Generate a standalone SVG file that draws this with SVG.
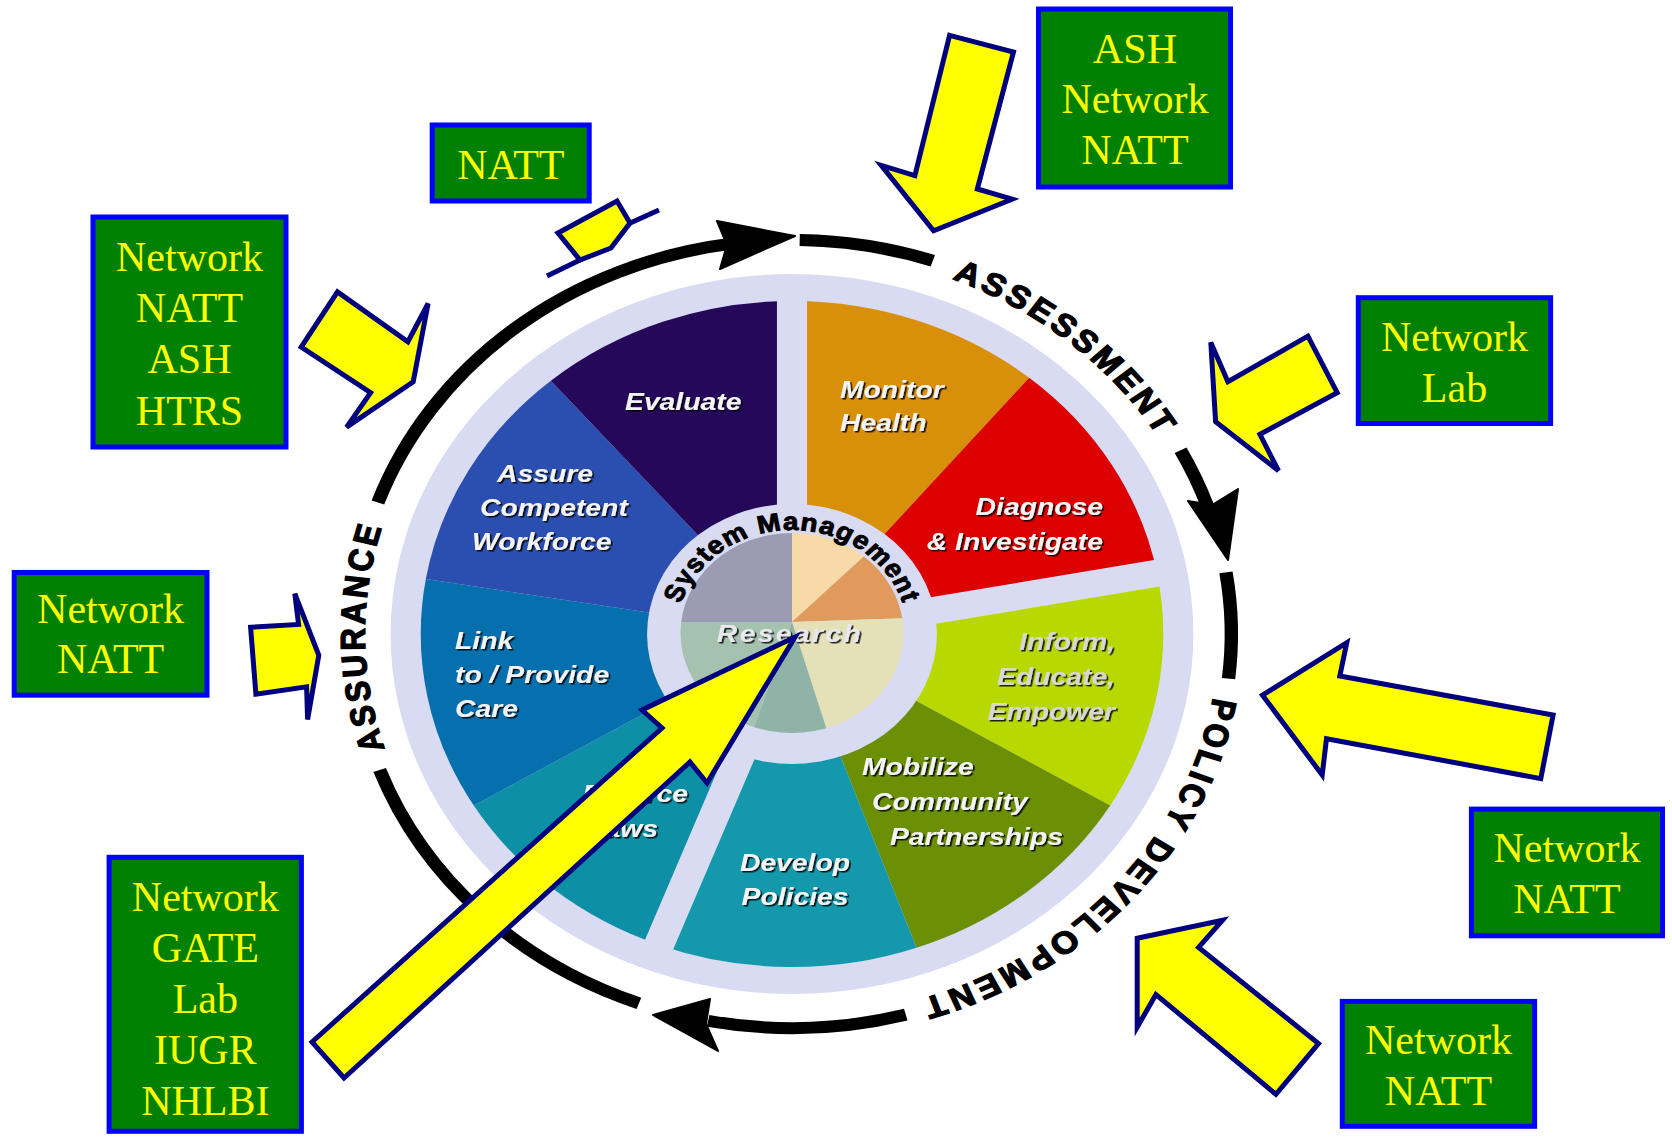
<svg xmlns="http://www.w3.org/2000/svg" width="1672" height="1139" viewBox="0 0 1672 1139">
<style>
.box rect{fill:#008000;stroke:#0000FF;stroke-width:5}
.box text{font-family:"Liberation Serif","Times New Roman",serif;font-size:42px;fill:#FFFF00;text-anchor:middle}
.arw{fill:#FFFF00;stroke:#00007F;stroke-width:5;stroke-linejoin:miter}
.spk{fill:none;stroke:#00007F;stroke-width:5;stroke-linecap:butt}
.ring{fill:none;stroke:#000;stroke-width:12}
.ahead{fill:#000;stroke:#000;stroke-width:2;stroke-linejoin:round}
.rtxt{font-family:"Liberation Sans",Arial,sans-serif;font-weight:bold;font-size:31px;letter-spacing:3.5px;fill:#000;stroke:#000;stroke-width:1.3}
.smtxt{font-family:"Liberation Sans",Arial,sans-serif;font-weight:bold;font-size:25px;letter-spacing:1px;fill:#000;stroke:#000;stroke-width:0.9}
.lbl{font-family:"Liberation Sans",Arial,sans-serif;font-weight:bold;font-style:italic;font-size:24px;fill:#F4F4F4;filter:url(#sh)}
.gap{stroke:#D9DBF3;stroke-width:27}
</style>
<defs>
<filter id="sh" x="-10%" y="-20%" width="120%" height="150%">
<feDropShadow dx="1.5" dy="1.5" stdDeviation="0.6" flood-color="#000" flood-opacity="0.85"/>
</filter>
<path id="ringpath" d="M 383 0 A 383 383 0 1 1 -383 0 A 383 383 0 1 1 383 0"/>
<path id="smpath" d="M -104 0 A 104 104 0 0 1 104 0"/>
<clipPath id="discclip"><circle cx="0" cy="-1" r="100"/></clipPath>
</defs>
<rect width="1672" height="1139" fill="#FFFFFF"/>

<g id="wheel-ring">
<circle cx="792" cy="634" r="360" transform="translate(792,634) scale(1.115,1) translate(-792,-634)" fill="#D9DBF3"/>
<g transform="translate(792,634) scale(1.115,1)">
<path class="ring" d="M -371.4 -131.5 A 394 394 0 0 1 -54.8 -390.2"/>
<path class="ring" d="M 6.9 -393.9 A 394 394 0 0 1 126.3 -373.2"/>
<path class="ring" d="M 348.5 -183.8 A 394 394 0 0 1 372.5 -128.3"/>
<path class="ring" d="M 389.2 -61.6 A 394 394 0 0 1 391.5 44.6"/>
<path class="ring" d="M 102.0 380.6 A 394 394 0 0 1 -75.2 386.8"/>
<path class="ring" d="M -137.3 369.3 A 394 394 0 0 1 -369.8 136.0"/>
<text class="rtxt" text-anchor="middle"><textPath href="#ringpath" startOffset="2075.6">ASSESSMENT</textPath></text>
<text class="rtxt" text-anchor="middle"><textPath href="#ringpath" startOffset="275.1">POLICY DEVELOPMENT</textPath></text>
<text class="rtxt" text-anchor="middle"><textPath href="#ringpath" startOffset="1199.9">ASSURANCE</textPath></text>
</g>
<polygon class="ahead" points="717,221 795,236 720,269 727,245"/>
<polygon class="ahead" points="1188,501 1228,560 1238,489 1212,505"/>
<polygon class="ahead" points="710,999 653,1015 718,1051 706,1024"/>
</g>

<g id="seg-monitor">
<path transform="translate(792,634) scale(1.115,1)" fill="#D8900A" d="M0 0 L0 -333 A333 333 0 0 1 212.7 -256.2 Z"/>
<text class="lbl" transform="translate(840,0) scale(1.18,1)"><tspan x="0" y="398">Monitor</tspan><tspan x="0" y="431">Health</tspan></text>
</g>
<g id="seg-diagnose">
<path transform="translate(792,634) scale(1.115,1)" fill="#DC0000" d="M0 0 L212.7 -256.2 A333 333 0 0 1 327.4 -60.7 Z"/>
<text class="lbl" text-anchor="end" transform="translate(1103,0) scale(1.18,1)"><tspan x="0" y="515">Diagnose</tspan><tspan x="0" y="550">&amp; Investigate</tspan></text>
</g>
<g id="seg-inform">
<path transform="translate(792,634) scale(1.115,1)" fill="#B8D802" d="M0 0 L327.4 -60.7 A333 333 0 0 1 285.4 171.5 Z"/>
<text class="lbl" text-anchor="end" transform="translate(1115,0) scale(1.18,1)" style="fill:#D8D8D0"><tspan x="0" y="650">Inform,</tspan><tspan x="0" y="685">Educate,</tspan><tspan x="0" y="720">Empower</tspan></text>
</g>
<g id="seg-mobilize">
<path transform="translate(792,634) scale(1.115,1)" fill="#6B8F05" d="M0 0 L285.4 171.5 A333 333 0 0 1 111.7 313.7 Z"/>
<text class="lbl" transform="translate(862,0) scale(1.18,1)"><tspan x="0" y="775">Mobilize</tspan><tspan x="8.5" y="810">Community</tspan><tspan x="23.7" y="845">Partnerships</tspan></text>
</g>
<g id="seg-develop">
<path transform="translate(792,634) scale(1.115,1)" fill="#1399AB" d="M0 0 L111.7 313.7 A333 333 0 0 1 -119.3 310.9 Z"/>
<text class="lbl" text-anchor="middle" transform="translate(795,0) scale(1.18,1)"><tspan x="0" y="871">Develop</tspan><tspan x="0" y="905">Policies</tspan></text>
</g>
<g id="seg-enforce">
<path transform="translate(792,634) scale(1.115,1)" fill="#0D8FA6" d="M0 0 L-119.3 310.9 A333 333 0 0 1 -285.4 171.5 Z"/>
<text class="lbl" text-anchor="end" transform="translate(688,0) scale(1.18,1)"><tspan x="0" y="802">Enforce</tspan><tspan x="-25.4" y="837">Laws</tspan></text>
</g>
<g id="seg-link">
<path transform="translate(792,634) scale(1.115,1)" fill="#066FAE" d="M0 0 L-285.4 171.5 A333 333 0 0 1 -328.4 -54.9 Z"/>
<text class="lbl" transform="translate(455,0) scale(1.18,1)"><tspan x="0" y="649">Link</tspan><tspan x="0" y="683">to / Provide</tspan><tspan x="0" y="717">Care</tspan></text>
</g>
<g id="seg-assure">
<path transform="translate(792,634) scale(1.115,1)" fill="#2A4FB0" d="M0 0 L-328.4 -54.9 A333 333 0 0 1 -216.3 -253.2 Z"/>
<text class="lbl" transform="translate(480,0) scale(1.18,1)"><tspan x="14.4" y="482">Assure</tspan><tspan x="0" y="516">Competent</tspan><tspan x="-6.8" y="550">Workforce</tspan></text>
</g>
<g id="seg-evaluate">
<path transform="translate(792,634) scale(1.115,1)" fill="#26085A" d="M0 0 L-216.3 -253.2 A333 333 0 0 1 0 -333 Z"/>
<text class="lbl" transform="translate(625,0) scale(1.18,1)"><tspan x="0" y="410">Evaluate</tspan></text>
</g>

<g id="center-system-management">
<g transform="translate(792,634) scale(1.115,1)">
<line class="gap" x1="0" y1="-118" x2="0" y2="-345"/>
<line class="gap" x1="116" y1="-21.5" x2="339.2" y2="-62.9"/>
<line class="gap" x1="-42.3" y1="110.1" x2="-123.6" y2="322.1"/>
<circle cx="0" cy="0" r="130" fill="#D9DBF3"/>
<g clip-path="url(#discclip)">
<path fill="#9B9BB3" d="M0 -12 L-130 -12 A130 130 0 0 1 0 -142 Z"/>
<path fill="#F8D9A8" d="M0 -12 L0 -142 A130 130 0 0 1 91.1 -104.7 Z"/>
<path fill="#E09A5C" d="M0 -12 L91.1 -104.7 A130 130 0 0 1 129.9 -17 Z"/>
<path fill="#E4E0B8" d="M0 -12 L129.9 -17 A130 130 0 0 1 36.1 112.9 Z"/>
<path fill="#8FB3A6" d="M0 -12 L36.1 112.9 A130 130 0 0 1 -40.2 111.6 Z"/>
<path fill="#A5C2AE" d="M0 -12 L-40.2 111.6 A130 130 0 0 1 -130 -12 Z"/>
</g>
<text class="smtxt" text-anchor="middle"><textPath href="#smpath" startOffset="50%">System Management</textPath></text>
</g>
<text class="lbl" text-anchor="middle" letter-spacing="2" transform="translate(790,0) scale(1.18,1)" style="fill:#E8E8EE"><tspan x="0" y="642">Research</tspan></text>
</g>

<g id="connectors">
<polygon class="arw" points="949.6,35.3 1013.5,52 977.3,189 1012,199.2 933.6,230.8 881.3,165.4 914.9,175.6"/>
<polygon class="arw" points="1210.8,342.4 1227.9,381.7 1307.9,336.2 1337.2,392.6 1259.9,434.4 1278.5,470.7 1215.6,421.7"/>
<polygon class="arw" points="337.5,291.9 407.9,341.7 428.1,303.5 413.2,381.7 346.6,427.1 370.6,392.6 301.2,347.1"/>
<polygon class="arw" points="558,233 617,201 630,223 611,248 580,260"/>
<line class="spk" x1="628" y1="224" x2="659" y2="210"/>
<line class="spk" x1="582" y1="259" x2="547" y2="276"/>
<polygon class="arw" points="250.6,627.3 298.6,624.4 294.8,593.6 318.8,655.3 307.6,719.5 306.6,686.8 255.9,694.1"/>
<polygon class="arw" points="312,1042 662,728 642,710 795,637 707,783 690,762 344,1078"/>
<polygon class="arw" points="1262.5,695.2 1346.8,642.6 1339.8,676 1553.1,715.1 1540.8,778.6 1326.5,738.7 1322.2,775"/>
<polygon class="arw" points="1137.2,938.3 1222.5,920.2 1198.6,947.4 1318.5,1043.5 1275.9,1094.3 1155.9,994.5 1137.2,1027.2"/>
</g>

<g id="box-natt-top" class="box">
<rect x="432.2" y="125" width="157" height="76"/>
<text x="510.8" y="178.8">NATT</text>
</g>
<g id="box-network-natt-ash-htrs" class="box">
<rect x="93" y="217" width="193" height="230"/>
<text x="189.5"><tspan x="189.5" y="270.8">Network</tspan><tspan x="189.5" y="321.7">NATT</tspan><tspan x="189.5" y="372.6">ASH</tspan><tspan x="189.5" y="424.6">HTRS</tspan></text>
</g>
<g id="box-ash-network-natt" class="box">
<rect x="1038.5" y="9" width="192" height="178"/>
<text x="1135"><tspan x="1135" y="62.5">ASH</tspan><tspan x="1135" y="113.4">Network</tspan><tspan x="1135" y="164.3">NATT</tspan></text>
</g>
<g id="box-network-lab" class="box">
<rect x="1358.3" y="297.7" width="192.3" height="125.8"/>
<text x="1454.5"><tspan x="1454.5" y="350.8">Network</tspan><tspan x="1454.5" y="401.7">Lab</tspan></text>
</g>
<g id="box-network-natt-left" class="box">
<rect x="14.2" y="572.5" width="192.8" height="122.7"/>
<text x="110.6"><tspan x="110.6" y="622.6">Network</tspan><tspan x="110.6" y="673.4">NATT</tspan></text>
</g>
<g id="box-network-gate-lab-iugr-nhlbi" class="box">
<rect x="109.1" y="857.3" width="192.3" height="274"/>
<text x="205.3"><tspan x="205.3" y="911">Network</tspan><tspan x="205.3" y="961.9">GATE</tspan><tspan x="205.3" y="1012.7">Lab</tspan><tspan x="205.3" y="1064.2">IUGR</tspan><tspan x="205.3" y="1115">NHLBI</tspan></text>
</g>
<g id="box-network-natt-right" class="box">
<rect x="1471.4" y="809.1" width="191.1" height="126.7"/>
<text x="1567"><tspan x="1567" y="862.1">Network</tspan><tspan x="1567" y="912.9">NATT</tspan></text>
</g>
<g id="box-network-natt-bottom" class="box">
<rect x="1342.3" y="1001.4" width="192.3" height="124.9"/>
<text x="1438.5"><tspan x="1438.5" y="1054.4">Network</tspan><tspan x="1438.5" y="1105.2">NATT</tspan></text>
</g>
</svg>
